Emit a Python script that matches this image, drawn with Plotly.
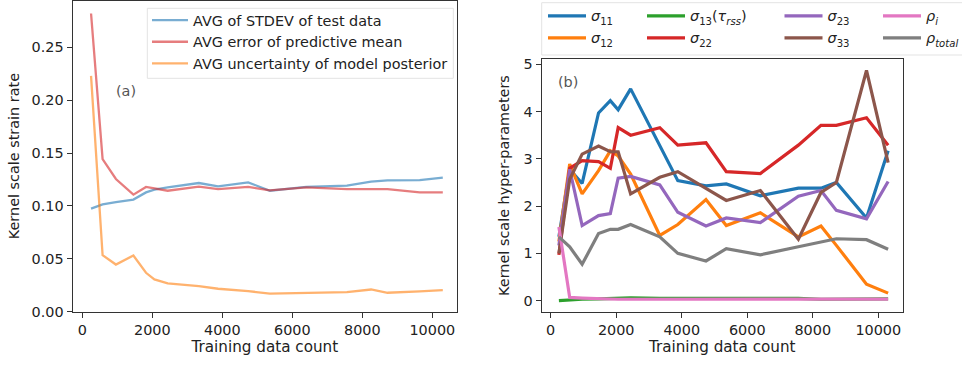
import plotly.graph_objects as go

# Training set sizes shared by both panels
train_count = [250, 580, 960, 1460, 1820, 2060, 2440, 3330, 3880, 4740,
               5360, 6400, 7560, 8250, 8720, 9640, 10300]

# Panel (a): kernel-scale strain-rate statistics
avg_stdev_test = [0.0975, 0.1015, 0.1037, 0.1060, 0.1128, 0.1154, 0.1176, 0.1217, 0.1185,
                  0.1223, 0.1144, 0.1180, 0.1192, 0.1230, 0.1242, 0.1245, 0.1267]
avg_err_mean = [0.282, 0.1443, 0.1255, 0.1107, 0.1180, 0.1167, 0.1144, 0.1182, 0.1160,
                0.1180, 0.1147, 0.1176, 0.1160, 0.1160, 0.1160, 0.1128, 0.1128]
avg_unc_post = [0.223, 0.0534, 0.0446, 0.0531, 0.0368, 0.0305, 0.0267, 0.0242, 0.0217,
                0.0195, 0.0170, 0.0179, 0.0185, 0.0210, 0.0179, 0.0192, 0.0204]

# Panel (b): kernel-scale hyper-parameters
sigma_11 = [1.35, 2.78, 2.48, 3.97, 4.23, 4.04, 4.48, 3.30, 2.54, 2.43, 2.47, 2.22, 2.38, 2.38, 2.50, 1.75, 3.17]
sigma_12 = [1.25, 2.89, 2.26, 2.75, 3.17, 3.06, 2.68, 1.38, 1.61, 2.14, 1.59, 1.86, 1.35, 1.58, 1.17, 0.35, 0.16]
sigma_13 = [0.00, 0.02, 0.03, 0.04, 0.05, 0.05, 0.06, 0.05, 0.05, 0.05, 0.06, 0.05, 0.05, 0.03, 0.03, 0.03, 0.04]
sigma_22 = [0.97, 2.80, 2.96, 2.94, 2.80, 3.66, 3.50, 3.66, 3.29, 3.34, 2.73, 2.69, 3.29, 3.71, 3.71, 3.87, 3.29]
sigma_23 = [1.17, 2.78, 1.59, 1.80, 1.84, 2.59, 2.63, 2.45, 1.87, 1.58, 1.75, 1.65, 2.21, 2.33, 1.91, 1.73, 2.52]
sigma_33 = [1.00, 2.57, 3.10, 3.27, 3.15, 3.15, 2.26, 2.61, 2.73, 2.38, 2.12, 2.33, 1.30, 2.29, 2.50, 4.87, 2.92]
rho_i = [1.56, 0.07, 0.056, 0.04, 0.03, 0.03, 0.03, 0.03, 0.03, 0.03, 0.03, 0.03, 0.03, 0.02, 0.02, 0.03, 0.035]
rho_total = [1.35, 1.14, 0.77, 1.42, 1.51, 1.51, 1.61, 1.35, 1.00, 0.84, 1.10, 0.97, 1.14, 1.24, 1.31, 1.29, 1.09]

x_ticks = [0, 2000, 4000, 6000, 8000, 10000]
x_tick_text = ["0", "2000", "4000", "6000", "8000", "10000"]

W, H = 962, 365
FONT = "DejaVu Sans"
FS = 14.4


def px_x(v):
    return v / W


def px_y(v):
    return 1 - v / H


fig = go.Figure()
legend_layouts = {}

leg_common = dict(
    bgcolor="rgba(0,0,0,0)", borderwidth=0, orientation="v",
    xanchor="left", yanchor="top",
    font=dict(family=FONT, size=FS, color="#222222"),
)

# panel (a) series: name, values, colour, legend slot (left px, top px)
left_series = [
    ("AVG of STDEV of test data", avg_stdev_test, "rgba(31,119,180,0.6)", (147, 4.2)),
    ("AVG error of predictive mean", avg_err_mean, "rgba(214,39,40,0.6)", (147, 25.9)),
    ("AVG uncertainty of model posterior", avg_unc_post, "rgba(255,127,14,0.6)", (147, 47.5)),
]
n = 2
for name, vals, col, (lx, ly) in left_series:
    key = f"legend{n}"
    fig.add_trace(go.Scatter(
        x=train_count, y=vals, mode="lines", name=name,
        line=dict(color=col, width=2.3), xaxis="x", yaxis="y", legend=key,
    ))
    legend_layouts[key] = dict(x=px_x(lx), y=px_y(ly), itemwidth=36, **leg_common)
    n += 1

# panel (b) series, legend laid out in four columns of two rows
right_series = [
    ("<i>σ</i><sub>11</sub>", sigma_11, "#1f77b4", (543, 0.0)),
    ("<i>σ</i><sub>12</sub>", sigma_12, "#ff7f0e", (543, 22.0)),
    ("<i>σ</i><sub>13</sub>(<i>τ</i><sub><i>rss</i></sub>)", sigma_13, "#2ca02c", (642, 0.0)),
    ("<i>σ</i><sub>22</sub>", sigma_22, "#d62728", (642, 22.0)),
    ("<i>σ</i><sub>23</sub>", sigma_23, "#9467bd", (779.5, 0.0)),
    ("<i>σ</i><sub>33</sub>", sigma_33, "#8c564b", (779.5, 22.0)),
    ("<i>ρ</i><sub><i>i</i></sub>", rho_i, "#e377c2", (878, 0.0)),
    ("<i>ρ</i><sub><i>total</i></sub>", rho_total, "#7f7f7f", (878, 22.0)),
]
for name, vals, col, (lx, ly) in right_series:
    key = f"legend{n}"
    fig.add_trace(go.Scatter(
        x=train_count, y=vals, mode="lines", name=name,
        line=dict(color=col, width=3.2), xaxis="x2", yaxis="y2", legend=key,
    ))
    legend_layouts[key] = dict(x=px_x(lx), y=px_y(ly), itemwidth=38, **leg_common)
    n += 1

axis_common = dict(
    showgrid=False, zeroline=False, showline=True, mirror=True, automargin=False,
    linecolor="#333333", linewidth=1.3, ticks="outside", ticklen=5,
    tickwidth=1.1, tickcolor="#333333",
    tickfont=dict(family=FONT, size=FS, color="#222222"),
)
title_font = dict(family=FONT, size=FS, color="#222222")
xtitle_font = dict(family=FONT, size=15.2, color="#222222")

fig.update_layout(
    width=W, height=H,
    margin=dict(l=0, r=0, t=0, b=0, autoexpand=False),
    paper_bgcolor="white", plot_bgcolor="white", showlegend=True,
    font=dict(family=FONT, size=FS, color="#222222"),
    xaxis=dict(domain=[px_x(72.7), px_x(457)], range=[-274.3, 10705.7],
               tickvals=x_ticks, ticktext=x_tick_text, anchor="y",
               title=dict(text="Training data count", font=xtitle_font, standoff=3),
               **axis_common),
    yaxis=dict(domain=[px_y(311.7), px_y(0.5)], range=[0, 0.2943],
               tickvals=[0, 0.05, 0.10, 0.15, 0.20, 0.25], tickformat=".2f", anchor="x",
               title=dict(text="Kernel scale strain rate", font=title_font, standoff=8),
               **axis_common),
    xaxis2=dict(domain=[px_x(541.7), px_x(902.7)], range=[-274.7, 10745],
                tickvals=x_ticks, ticktext=x_tick_text, anchor="y2",
                title=dict(text="Training data count", font=xtitle_font, standoff=3),
                **axis_common),
    yaxis2=dict(domain=[px_y(311.7), px_y(59.3)], range=[-0.233, 5.106],
                tickvals=[0, 1, 2, 3, 4, 5], anchor="x2",
                title=dict(text="Kernel scale hyper-parameters", font=title_font, standoff=10),
                **axis_common),
    **legend_layouts,
)

# legend frames
fig.add_shape(type="rect", xref="paper", yref="paper",
              x0=px_x(147.3), x1=px_x(453.3), y0=px_y(78.3), y1=px_y(8.3),
              fillcolor="rgba(255,255,255,0.8)", line=dict(color="#e3e3e3", width=1),
              layer="above")
fig.add_shape(type="rect", xref="paper", yref="paper",
              x0=px_x(541.7), x1=px_x(975), y0=px_y(55), y1=px_y(2.7),
              fillcolor="rgba(255,255,255,0.8)", line=dict(color="#e3e3e3", width=1),
              layer="above")

# panel tags
fig.add_annotation(text="(a)", xref="paper", yref="paper", x=px_x(126), y=px_y(91),
                   showarrow=False, xanchor="center", yanchor="middle",
                   font=dict(family=FONT, size=FS, color="#555555"))
fig.add_annotation(text="(b)", xref="paper", yref="paper", x=px_x(567.5), y=px_y(81.5),
                   showarrow=False, xanchor="center", yanchor="middle",
                   font=dict(family=FONT, size=FS, color="#555555"))

fig.write_html("out.html")
